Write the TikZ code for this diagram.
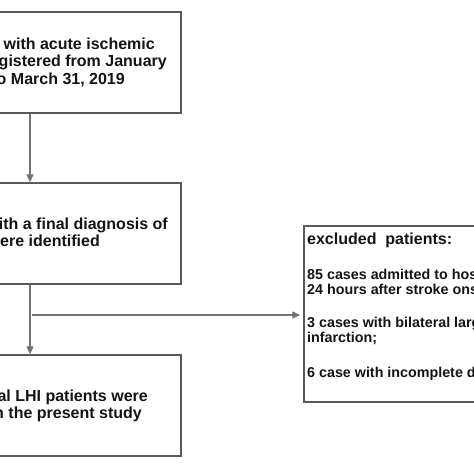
\documentclass[tikz,border=0pt]{standalone}
\usepackage{fontspec}
\setmainfont{Liberation Sans}
\usetikzlibrary{arrows.meta}
\begin{document}
\begin{tikzpicture}[x=1pt,y=1pt,
  box/.style={draw=black!65, line width=1.4pt, fill=none, inner sep=0pt},
  ltxt/.style={anchor=mid east, inner sep=0pt, font=\fontsize{16}{17}\bfseries\selectfont, text=black!92},
  rtxt/.style={anchor=mid west, inner sep=0pt, font=\fontsize{14.3}{15}\bfseries\selectfont, text=black!92},
  rtitle/.style={anchor=mid west, inner sep=0pt, font=\fontsize{16}{18}\bfseries\selectfont, text=black!92},
  conn/.style={draw=black!55, line width=1.1pt},
  arr/.style={conn, -{Triangle[length=8pt,width=7pt]}}]
\useasboundingbox (0,0) rectangle (474,474);
\fill[white] (0,0) rectangle (474,474);
% boxes
\node[box, minimum width=331pt, minimum height=101pt] (b1) at (15.5,411.5) {};
\node[box, minimum width=331pt, minimum height=101pt] (b2) at (15.5,240.5) {};
\node[box, minimum width=331pt, minimum height=101pt] (b3) at (15.5,68.5) {};
\node[box, minimum width=296pt, minimum height=176pt] (b4) at (452,160) {};
% texts
\node[ltxt] (t11) at (155,427) {with acute ischemic};
\node[ltxt] (t12) at (167,410) {gistered from January};
\node[ltxt] (t13) at (125,392) {o March 31, 2019};
\node[ltxt] (t21) at (168,247.5) {ith a final diagnosis of};
\node[ltxt] (t22) at (100,230.5) {ere identified};
\node[ltxt] (t31) at (148,75.5) {al LHI patients were};
\node[ltxt] (t32) at (142,58.5) {n the present study};
\node[rtitle] (t40) at (307,232.5) {excluded\ \ patients:};
\node[rtxt] (t41) at (307,197.5) {85 cases admitted to hos};
\node[rtxt] (t42) at (307,182.5) {24 hours after stroke ons};
\node[rtxt] (t43) at (307,149.5) {3 cases with bilateral larg};
\node[rtxt] (t44) at (307,134.5) {infarction;};
\node[rtxt] (t45) at (307,99.5) {6 case with incomplete d};
% connectors
\coordinate (ax) at (30,0);
\coordinate (br) at (32,159);
\draw[arr] (b1.south -| ax) -- (b2.north -| ax);
\draw[arr] (b2.south -| ax) -- (b3.north -| ax);
\draw[arr, shorten >=3pt] (br) -- (b4.west |- br);
\end{tikzpicture}
\end{document}
